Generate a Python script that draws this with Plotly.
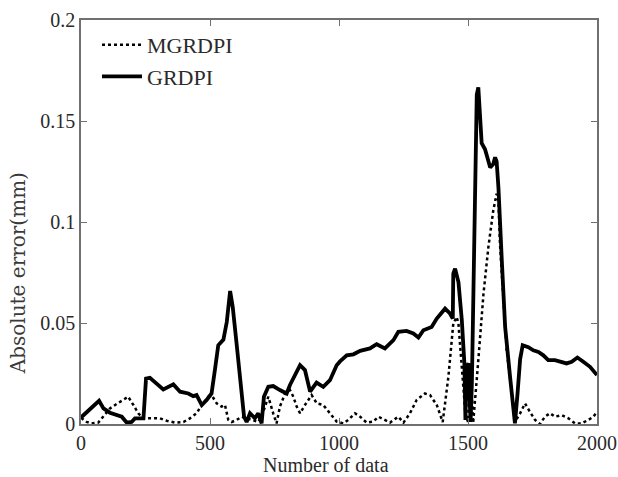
import plotly.graph_objects as go

# GRDPI (solid) digitized
grdpi_x = [0, 3, 70, 87, 112, 138, 158, 177, 196, 209, 242, 252, 267, 293, 319, 358, 384, 416, 435, 448, 468, 487, 506,
           519, 532, 552, 565, 578, 588, 603, 623, 632, 642, 655, 674, 687, 700, 709, 726, 745, 771, 797, 810, 829, 849,
           868, 888, 913, 939, 965, 991, 1004, 1030, 1056, 1082, 1120, 1146, 1178, 1191, 1211, 1230, 1262, 1288, 1308,
           1327, 1359, 1379, 1411, 1430, 1441, 1443, 1450, 1463, 1476, 1486, 1490, 1494, 1502, 1507, 1510, 1515, 1527,
           1534, 1540, 1544, 1547, 1553, 1566, 1586, 1598, 1605, 1611, 1618, 1631, 1644, 1663, 1676, 1682, 1692, 1702,
           1712, 1734, 1753, 1773, 1792, 1811, 1837, 1863, 1882, 1902, 1924, 1947, 1973, 2000]
grdpi_y = [0.0036, 0.0036, 0.0115, 0.0077, 0.0056, 0.0044, 0.0036, 0.0007, 0.0010, 0.0028, 0.0028, 0.0225, 0.0229,
           0.0200, 0.0171, 0.0196, 0.0160, 0.0151, 0.0138, 0.0143, 0.0094, 0.0119, 0.0151, 0.0267, 0.0390, 0.0418,
           0.0505, 0.0658, 0.0580, 0.0398, 0.0151, 0.0036, 0.0010, 0.0053, 0.0028, 0.0053, 0.0003, 0.0135, 0.0184,
           0.0188, 0.0168, 0.0151, 0.0193, 0.0242, 0.0291, 0.0267, 0.0160, 0.0205, 0.0184, 0.0217, 0.0291, 0.0310,
           0.0340, 0.0345, 0.0362, 0.0374, 0.0395, 0.0374, 0.0390, 0.0415, 0.0456, 0.0461, 0.0448, 0.0428, 0.0464,
           0.0480, 0.0522, 0.0571, 0.0547, 0.0522, 0.0744, 0.0769, 0.0703, 0.0514, 0.0300, 0.0020, 0.0280, 0.0300,
           0.0100, 0.0010, 0.0200, 0.1140, 0.1630, 0.1666, 0.1580, 0.1470, 0.1390, 0.1360, 0.1270, 0.1287, 0.1320,
           0.1300, 0.1170, 0.0810, 0.0480, 0.0234, 0.0053, 0.0003, 0.0150, 0.0320, 0.0390, 0.0380, 0.0365, 0.0357,
           0.0340, 0.0316, 0.0316, 0.0308, 0.0300, 0.0308, 0.0329, 0.0308, 0.0283, 0.0242]

# MGRDPI (dotted) digitized
mgrdpi_x = [0, 3, 22, 41, 67, 87, 112, 138, 164, 183, 203, 222, 242, 267, 306, 332, 364, 397, 422, 448, 468, 493, 506,
            526, 545, 558, 571, 584, 603, 623, 642, 668, 687, 700, 713, 726, 745, 758, 771, 791, 810, 823, 836, 849,
            868, 894, 914, 939, 965, 991, 1017, 1036, 1062, 1082, 1107, 1133, 1153, 1178, 1198, 1230, 1250, 1275,
            1301, 1333, 1353, 1379, 1402, 1424, 1443, 1456, 1463, 1476, 1490, 1500, 1507, 1512, 1520, 1540, 1560,
            1579, 1598, 1611, 1618, 1624, 1637, 1650, 1670, 1682, 1702, 1721, 1740, 1760, 1779, 1798, 1818, 1837,
            1863, 1889, 1915, 1940, 1966, 1986, 2000]
mgrdpi_y = [0.0028, 0.0028, 0.0010, 0.0003, 0.0007, 0.0036, 0.0077, 0.0099, 0.0119, 0.0135, 0.0094, 0.0053, 0.0028,
            0.0028, 0.0028, 0.0016, 0.0007, 0.0010, 0.0028, 0.0053, 0.0094, 0.0135, 0.0143, 0.0102, 0.0086, 0.0094,
            0.0020, 0.0010, 0.0020, 0.0036, 0.0028, 0.0020, 0.0010, 0.0036, 0.0086, 0.0135, 0.0053, 0.0003, 0.0086,
            0.0151, 0.0168, 0.0135, 0.0086, 0.0053, 0.0094, 0.0143, 0.0102, 0.0094, 0.0053, 0.0012, 0.0003, 0.0020,
            0.0053, 0.0036, 0.0007, 0.0012, 0.0036, 0.0020, 0.0007, 0.0036, 0.0007, 0.0053, 0.0119, 0.0151, 0.0143,
            0.0094, 0.0010, 0.0234, 0.0497, 0.0530, 0.0497, 0.0280, 0.0050, 0.0010, 0.0250, 0.0200, 0.0005, 0.0316,
            0.0645, 0.0876, 0.1057, 0.1140, 0.1106, 0.0890, 0.0610, 0.0365, 0.0150, 0.0010, 0.0053, 0.0102, 0.0060,
            0.0020, 0.0000, 0.0036, 0.0053, 0.0036, 0.0044, 0.0028, 0.0003, 0.0003, 0.0020, 0.0036, 0.0060]

x_ticks = [0, 500, 1000, 1500, 2000]
y_ticks = [0, 0.05, 0.1, 0.15, 0.2]
y_tick_labels = ["0", "0.05", "0.1", "0.15", "0.2"]

FONT = "Liberation Serif"
TITLE_FONT = "DejaVu Serif"
AXIS_COLOR = "#707070"
TEXT_COLOR = "#2a2a2a"

fig = go.Figure()
fig.add_trace(go.Scatter(x=mgrdpi_x, y=mgrdpi_y, mode="lines", name="MGRDPI",
                         line=dict(color="black", width=2.5, dash="dot")))
fig.add_trace(go.Scatter(x=grdpi_x, y=grdpi_y, mode="lines", name="GRDPI",
                         line=dict(color="black", width=3.8)))

axis_common = dict(showline=True, linecolor=AXIS_COLOR, linewidth=1.5, mirror="ticks",
                   ticks="inside", ticklen=6, tickcolor=AXIS_COLOR, showgrid=False, zeroline=False,
                   automargin=False,
                   tickfont=dict(family=FONT, size=20, color=TEXT_COLOR))

fig.update_layout(
    width=618, height=477,
    margin=dict(l=81, r=21, t=20, b=53),
    paper_bgcolor="white", plot_bgcolor="white",
    font=dict(family=FONT, color=TEXT_COLOR),
    xaxis=dict(range=[-0.01, 2000.01], tickvals=x_ticks, **axis_common),
    yaxis=dict(range=[0, 0.2], tickvals=y_ticks, ticktext=y_tick_labels, **axis_common),
    legend=dict(x=0.031, y=0.99, xanchor="left", yanchor="top", bgcolor="rgba(0,0,0,0)",
                font=dict(family=FONT, size=22, color=TEXT_COLOR), tracegroupgap=0, itemwidth=40),
    showlegend=True,
    annotations=[
        dict(text="Number of data", xref="paper", yref="paper", x=0.475, y=-0.131,
             xanchor="center", yanchor="bottom", showarrow=False, borderpad=0,
             font=dict(family=FONT, size=20, color=TEXT_COLOR)),
        dict(text="Absolute error(mm)", xref="paper", yref="paper", x=-0.123, y=0.372,
             xanchor="center", yanchor="middle", textangle=-90, showarrow=False,
             font=dict(family=TITLE_FONT, size=20, color="#3a3a3a")),
    ],
)

fig.write_html("out.html", config={"displayModeBar": False},
               post_script="document.body.style.margin='0px';")
